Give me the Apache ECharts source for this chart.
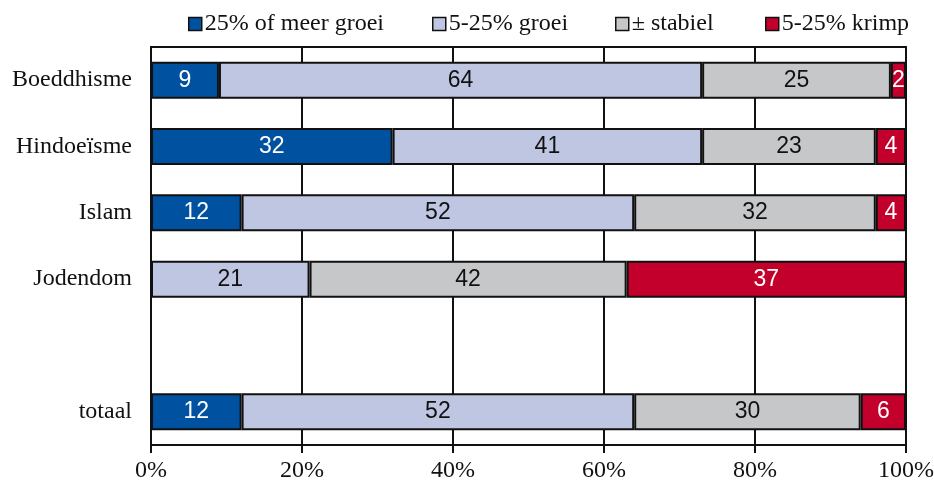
<!DOCTYPE html>
<html>
<head>
  <meta charset="utf-8">
  <title>groei religies</title>
  <script src="https://cdn.jsdelivr.net/npm/echarts@6/dist/echarts.min.js"></script>
  <style>
    html, body { margin: 0; padding: 0; background: #fff; }
    #chart { width: 934px; height: 484px; }
  </style>
</head>
<body>
  <div id="chart"></div>
  <script>
    // categorieen, lege regel tussen Jodendom en totaal
    const categories = ['Boeddhisme', 'Hindoeïsme', 'Islam', 'Jodendom', '', 'totaal'];
    const seriesNames = ['25% of meer groei', '5-25% groei', '± stabiel', '5-25% krimp'];
    const sterkeGroei = [9, 32, 12, 0, null, 12];
    const groei = [64, 41, 52, 21, null, 52];
    const stabiel = [25, 23, 32, 42, null, 30];
    const krimp = [2, 4, 4, 37, null, 6];
    const xTicks = [0, 20, 40, 60, 80, 100];

    const colors = ['#0052A0', '#BFC6E2', '#C6C7C8', '#C2002B'];
    const labelColors = ['#fff', '#111', '#111', '#fff'];
    const values = [sterkeGroei, groei, stabiel, krimp];
    // legenda-items staan niet op gelijke afstand
    const legendLeft = [188, 432, 615, 765];

    const chart = echarts.init(document.getElementById('chart'));

    const series = seriesNames.map(function (name, i) {
      return {
        name: name,
        type: 'bar',
        stack: 'totaal',
        barWidth: 37,
        data: values[i].map(function (v) { return v === 0 ? null : v; }),
        itemStyle: { color: colors[i], borderColor: '#111', borderWidth: 2 },
        label: {
          show: true,
          position: 'inside',
          color: labelColors[i],
          fontFamily: 'Liberation Sans',
          fontSize: 23
        }
      };
    });

    const legends = seriesNames.map(function (n, i) {
      return {
        top: 12,
        left: legendLeft[i],
        padding: 0,
        itemWidth: 13,
        itemHeight: 13,
        textStyle: { fontFamily: 'Liberation Serif', fontSize: 24, color: '#111', padding: [0, 0, 0, -2] },
        data: [{ name: n, icon: 'rect', itemStyle: { color: colors[i], borderColor: '#111', borderWidth: 1.5 } }]
      };
    });

    chart.setOption({
      animation: false,
      legend: legends,
      grid: {
        left: 151, right: 28, top: 47, bottom: 39,
        outerBoundsMode: 'none',
        containLabel: false,
        show: true, borderColor: '#111', borderWidth: 2, backgroundColor: '#fff'
      },
      xAxis: {
        type: 'value',
        min: xTicks[0],
        max: xTicks[xTicks.length - 1],
        interval: 20,
        axisLine: { show: true, lineStyle: { color: '#111', width: 2 } },
        axisTick: { show: true, length: 8, lineStyle: { color: '#111', width: 2 } },
        splitLine: { show: true, lineStyle: { color: '#111', width: 2 } },
        axisLabel: {
          formatter: '{value}%',
          fontFamily: 'Liberation Serif',
          fontSize: 24,
          color: '#111',
          margin: 14
        }
      },
      yAxis: {
        type: 'category',
        inverse: true,
        data: categories,
        axisLine: { show: true, lineStyle: { color: '#111', width: 2 } },
        axisTick: { show: false },
        axisLabel: {
          fontFamily: 'Liberation Serif',
          fontSize: 24,
          color: '#111',
          margin: 19
        }
      },
      series: series
    });
  </script>
</body>
</html>
